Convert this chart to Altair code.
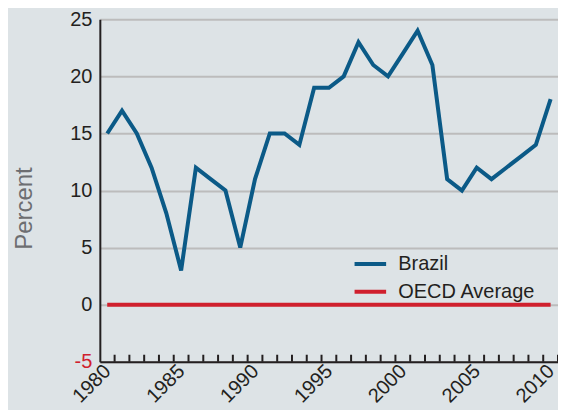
import altair as alt
import pandas as pd

years = list(range(1980, 2011))
brazil = [15, 17, 15, 12, 8, 3, 12, 11, 10, 5, 11, 15, 15, 14, 19, 19, 20, 23, 21, 20,
          22, 24, 21, 11, 10, 12, 11, 12, 13, 14, 18]
oecd = [0] * len(years)
series_names = ["Brazil", "OECD Average"]
series_colors = ["#0b5a87", "#d0202e"]
tick_years = list(range(1980, 2011))
label_years = list(range(1980, 2011, 5))
y_ticks = [-5, 0, 5, 10, 15, 20, 25]

df = pd.DataFrame({
    "year": years * 2,
    "value": brazil + oecd,
    "series": ["Brazil"] * len(years) + ["OECD Average"] * len(years),
})
ticks_df = pd.DataFrame({"year": tick_years})

FONT = "Liberation Sans"
INK = "#231f20"

x_scale = alt.Scale(domain=[1979.5, 2010.5], nice=False, zero=False)
y_scale = alt.Scale(domain=[-5, 25], nice=False)

lines = alt.Chart(df).mark_line(strokeWidth=4, strokeCap="butt", strokeJoin="miter").encode(
    x=alt.X("year:Q", scale=x_scale,
            axis=alt.Axis(values=label_years, format="d", labelAngle=-45, labelFontSize=20,
                          labelFont=FONT, labelColor=INK, labelPadding=6, tickSize=0,
                          grid=False, domainColor=INK, domainWidth=2, title=None,
                          labelAlign="right", labelBaseline="middle", labelFlush=False)),
    y=alt.Y("value:Q", scale=y_scale,
            axis=alt.Axis(values=y_ticks, labelFontSize=20, labelFont=FONT,
                          labelExpr="'' + datum.value",
                          labelColor={"condition": {"test": "datum.value < 0", "value": "#d0202e"},
                                      "value": INK},
                          labelPadding=8, tickSize=0, grid=True, gridColor="#bcbcbc",
                          gridWidth=2, domainColor=INK, domainWidth=2,
                          title="Percent", titleFont=FONT, titleFontSize=24,
                          titleFontWeight="normal", titleColor="#6d6e71",
                          titleX=-75, titleY=189, titleAlign="center",
                          titleBaseline="middle", titleAngle=-90)),
    color=alt.Color("series:N",
                    scale=alt.Scale(domain=series_names, range=series_colors),
                    legend=alt.Legend(title=None, orient="none", legendX=253, legendY=227,
                                      symbolType="stroke", symbolSize=1000,
                                      symbolStrokeWidth=4, labelFontSize=20,
                                      labelFont=FONT, labelColor=INK,
                                      labelOffset=10, rowPadding=-6)),
)

tick_marks = alt.Chart(ticks_df).mark_rule(color=INK, strokeWidth=2, y2Offset=-7).transform_calculate(
    xpos="datum.year + 0.5"
).encode(
    x=alt.X("xpos:Q", scale=x_scale),
    y=alt.datum(-5),
    y2=alt.datum(-5),
)

chart = alt.layer(lines, tick_marks).properties(
    width=459, height=343,
    autosize="none",
    padding={"left": 92, "top": 11, "right": 0, "bottom": 48},
    background="#dde3e6",
).configure_view(stroke=None)

chart.save("out.html", embed_options={"renderer": "svg", "actions": False})
